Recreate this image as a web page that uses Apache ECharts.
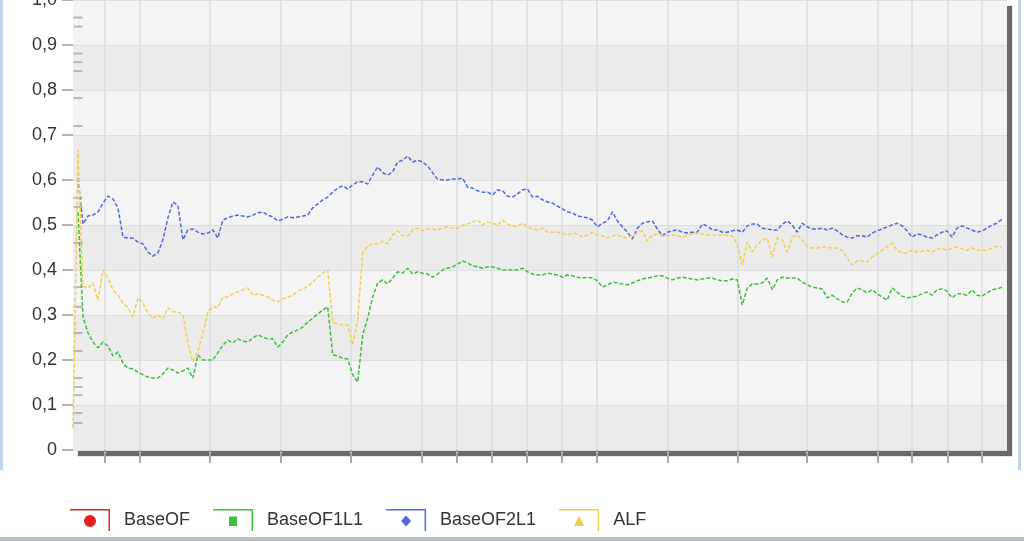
<!DOCTYPE html>
<html>
<head>
<meta charset="utf-8">
<script src="https://cdn.jsdelivr.net/npm/echarts@6/dist/echarts.min.js"></script>
<style>html,body{margin:0;padding:0;background:#fff;}#c{width:1024px;height:541px;}</style>
</head>
<body>
<div id="c"></div>
<script>
const seriesNames = ['BaseOF', 'BaseOF1L1', 'BaseOF2L1', 'ALF'];
const xTicks = [6.4, 13.4, 27.4, 41.6, 55.6, 69.8, 76.8, 83.8, 90.8, 97.8, 104.8, 119, 133, 147, 161.2, 168, 175.2, 182];
const baseOF = [];
const baseOF1L1 = [null, 0.529, 0.296, 0.260, 0.240, 0.227, 0.240, 0.231, 0.209, 0.218,
0.193, 0.182, 0.180, 0.173, 0.167, 0.162, 0.160, 0.160, 0.169, 0.182,
0.178, 0.171, 0.176, 0.182, 0.160, 0.211, 0.200, 0.200, 0.200, 0.216,
0.233, 0.244, 0.238, 0.247, 0.242, 0.240, 0.249, 0.256, 0.251, 0.247,
0.247, 0.229, 0.240, 0.256, 0.262, 0.267, 0.273, 0.284, 0.293, 0.302,
0.311, 0.318, 0.211, 0.209, 0.204, 0.202, 0.167, 0.151, 0.256, 0.293,
0.340, 0.371, 0.378, 0.369, 0.382, 0.396, 0.393, 0.404, 0.391, 0.396,
0.393, 0.391, 0.384, 0.391, 0.400, 0.404, 0.407, 0.413, 0.420, 0.416,
0.409, 0.407, 0.404, 0.407, 0.407, 0.404, 0.400, 0.400, 0.400, 0.400,
0.404, 0.396, 0.391, 0.389, 0.389, 0.393, 0.391, 0.389, 0.384, 0.389,
0.387, 0.384, 0.382, 0.384, 0.382, 0.376, 0.362, 0.367, 0.373, 0.371,
0.369, 0.367, 0.371, 0.376, 0.380, 0.382, 0.384, 0.387, 0.387, 0.382,
0.378, 0.382, 0.384, 0.382, 0.380, 0.378, 0.380, 0.382, 0.382, 0.378,
0.376, 0.376, 0.380, 0.378, 0.322, 0.360, 0.369, 0.369, 0.371, 0.382,
0.356, 0.378, 0.384, 0.382, 0.382, 0.382, 0.373, 0.367, 0.362, 0.360,
0.358, 0.338, 0.344, 0.336, 0.329, 0.329, 0.349, 0.360, 0.356, 0.349,
0.356, 0.347, 0.340, 0.333, 0.360, 0.351, 0.342, 0.338, 0.340, 0.342,
0.347, 0.351, 0.344, 0.356, 0.358, 0.353, 0.338, 0.347, 0.347, 0.344,
0.356, 0.344, 0.342, 0.349, 0.356, 0.358, 0.362, null];
const baseOF2L1 = [null, 0.604, 0.502, 0.520, 0.522, 0.529, 0.549, 0.564, 0.558, 0.538,
0.473, 0.471, 0.471, 0.462, 0.458, 0.440, 0.431, 0.438, 0.467, 0.516,
0.551, 0.544, 0.467, 0.489, 0.491, 0.484, 0.480, 0.482, 0.489, 0.471,
0.511, 0.516, 0.520, 0.522, 0.520, 0.518, 0.522, 0.527, 0.529, 0.522,
0.518, 0.509, 0.513, 0.518, 0.516, 0.518, 0.520, 0.522, 0.538, 0.547,
0.556, 0.562, 0.573, 0.582, 0.587, 0.580, 0.589, 0.596, 0.596, 0.591,
0.611, 0.629, 0.616, 0.611, 0.618, 0.640, 0.644, 0.653, 0.640, 0.644,
0.640, 0.631, 0.616, 0.602, 0.600, 0.600, 0.602, 0.602, 0.604, 0.584,
0.582, 0.576, 0.573, 0.573, 0.567, 0.578, 0.576, 0.564, 0.562, 0.569,
0.578, 0.580, 0.562, 0.564, 0.556, 0.551, 0.549, 0.542, 0.536, 0.529,
0.527, 0.520, 0.518, 0.516, 0.511, 0.496, 0.504, 0.509, 0.529, 0.509,
0.496, 0.484, 0.469, 0.493, 0.504, 0.507, 0.509, 0.491, 0.476, 0.484,
0.487, 0.489, 0.484, 0.482, 0.484, 0.484, 0.502, 0.498, 0.489, 0.489,
0.484, 0.484, 0.487, 0.489, 0.484, 0.498, 0.502, 0.502, 0.493, 0.491,
0.489, 0.489, 0.502, 0.509, 0.500, 0.484, 0.504, 0.496, 0.491, 0.491,
0.493, 0.489, 0.493, 0.487, 0.478, 0.473, 0.471, 0.476, 0.476, 0.473,
0.482, 0.487, 0.491, 0.496, 0.500, 0.504, 0.498, 0.487, 0.473, 0.480,
0.478, 0.473, 0.471, 0.478, 0.484, 0.487, 0.473, 0.493, 0.498, 0.493,
0.489, 0.484, 0.487, 0.493, 0.500, 0.504, 0.513, null];
const alf = [0.050, 0.667, 0.364, 0.360, 0.371, 0.333, 0.400, 0.382, 0.356, 0.344,
0.327, 0.316, 0.296, 0.338, 0.327, 0.304, 0.293, 0.300, 0.291, 0.316,
0.307, 0.307, 0.300, 0.238, 0.196, 0.218, 0.260, 0.307, 0.318, 0.316,
0.340, 0.340, 0.347, 0.351, 0.356, 0.360, 0.344, 0.347, 0.344, 0.340,
0.333, 0.329, 0.336, 0.340, 0.344, 0.353, 0.358, 0.364, 0.373, 0.384,
0.393, 0.400, 0.284, 0.280, 0.278, 0.278, 0.233, 0.289, 0.438, 0.453,
0.458, 0.458, 0.464, 0.458, 0.478, 0.487, 0.476, 0.476, 0.489, 0.493,
0.487, 0.491, 0.491, 0.489, 0.493, 0.496, 0.493, 0.493, 0.500, 0.502,
0.507, 0.511, 0.500, 0.507, 0.504, 0.500, 0.511, 0.502, 0.498, 0.498,
0.504, 0.496, 0.491, 0.489, 0.493, 0.484, 0.484, 0.484, 0.482, 0.478,
0.482, 0.480, 0.473, 0.478, 0.484, 0.478, 0.476, 0.471, 0.476, 0.478,
0.473, 0.471, 0.478, 0.482, 0.487, 0.464, 0.478, 0.480, 0.476, 0.476,
0.478, 0.476, 0.473, 0.478, 0.480, 0.482, 0.480, 0.478, 0.478, 0.478,
0.478, 0.478, 0.476, 0.456, 0.411, 0.462, 0.440, 0.456, 0.467, 0.471,
0.429, 0.471, 0.467, 0.440, 0.473, 0.478, 0.467, 0.453, 0.449, 0.449,
0.451, 0.451, 0.449, 0.449, 0.444, 0.427, 0.411, 0.420, 0.420, 0.418,
0.429, 0.436, 0.444, 0.453, 0.460, 0.444, 0.438, 0.438, 0.444, 0.440,
0.442, 0.444, 0.440, 0.447, 0.447, 0.444, 0.449, 0.451, 0.447, 0.444,
0.449, 0.444, 0.444, 0.444, 0.449, 0.453, 0.451, null];
const axisMarks = [0.961, 0.941, 0.881, 0.862, 0.842, 0.782, 0.72, 0.56, 0.54, 0.46, 0.362, 0.318, 0.26, 0.22, 0.16, 0.14, 0.122, 0.082, 0.06];

const colors = ['#e52222', '#3cc03c', '#5366dc', '#f0cf4e'];
const frame = 'M0 0H40V22H38.5V1.5H0Z';
const icons = [
  'path://' + frame + 'M14 12a6 6 0 1 0 12 0a6 6 0 1 0 -12 0Z',
  'path://' + frame + 'M16 7.5H24V17H16Z',
  'path://' + frame + 'M20 6.5L25 12L20 17.5L15 12Z',
  'path://' + frame + 'M20 6.5L25 17H15Z'
];
const toPairs = arr => arr.map((v, i) => [i, v]);
const font = 'Liberation Sans, Arial, sans-serif';

const chart = echarts.init(document.getElementById('c'), null, {renderer: 'canvas'});
const lineSeries = (name, data, idx) => ({
  name: name, type: 'line', data: toPairs(data), showSymbol: false, symbol: 'none',
  connectNulls: false, animation: false,
  lineStyle: {color: colors[idx], width: 1.5, type: [4, 2]},
  itemStyle: {color: colors[idx]}
});
chart.setOption({
  animation: false,
  backgroundColor: '#ffffff',
  color: colors,
  grid: {
    left: 73, right: 17, top: 0, bottom: 91, containLabel: false, outerBoundsMode: 'none',
    show: true, backgroundColor: '#f2f2f2', borderWidth: 0,
    shadowColor: 'rgba(105,105,105,1)', shadowBlur: 1, shadowOffsetX: 5, shadowOffsetY: 6
  },
  legend: {
    data: seriesNames.map((n, i) => ({name: n, icon: icons[i]})),
    left: 70, top: 509, padding: 0, itemWidth: 40, itemHeight: 22, itemGap: 23,
    selectedMode: false,
    itemStyle: {borderWidth: 0},
    textStyle: {fontSize: 18, color: '#333', fontFamily: font, padding: [0, 0, 0, 9]}
  },
  xAxis: {
    type: 'value', min: 0, max: 187,
    axisLine: {show: false},
    axisLabel: {show: false, customValues: xTicks},
    axisTick: {show: true, customValues: xTicks, length: 13, lineStyle: {color: '#a8a8a8', width: 2}},
    splitLine: {show: true, lineStyle: {color: '#dcdcdc', width: 1.5}}
  },
  yAxis: {
    type: 'value', min: 0, max: 1, interval: 0.1,
    axisLine: {show: false},
    axisTick: {show: true, length: 11, lineStyle: {color: '#9a9a9a', width: 1.5}},
    axisLabel: {
      margin: 16, fontSize: 18, color: '#333', fontFamily: font,
      formatter: v => (Math.abs(v) < 1e-9 ? '0' : v.toFixed(1).replace('.', ','))
    },
    splitLine: {show: true, lineStyle: {color: '#dedede', width: 1}},
    splitArea: {show: true, areaStyle: {color: ['#ebebeb', '#f4f4f4']}}
  },
  graphic: [
    {type: 'rect', left: 0, top: 0, shape: {width: 3, height: 470}, style: {fill: '#bcd3e8'}, silent: true},
    {type: 'rect', left: 1018, top: 0, shape: {width: 3, height: 470}, style: {fill: '#bcd3e8'}, silent: true},
    {type: 'rect', left: 0, top: 537, shape: {width: 1024, height: 4}, style: {fill: '#b8bec4'}, silent: true}
  ],
  series: [
    lineSeries('BaseOF', baseOF, 0),
    lineSeries('BaseOF1L1', baseOF1L1, 1),
    lineSeries('BaseOF2L1', baseOF2L1, 2),
    lineSeries('ALF', alf, 3),
    {
      type: 'scatter', name: 'marks', data: axisMarks.map(v => [1, v]),
      symbol: 'rect', symbolSize: [9, 2], itemStyle: {color: '#a9a9a9'}, silent: true, z: 1
    }
  ]
});
</script>
</body>
</html>
